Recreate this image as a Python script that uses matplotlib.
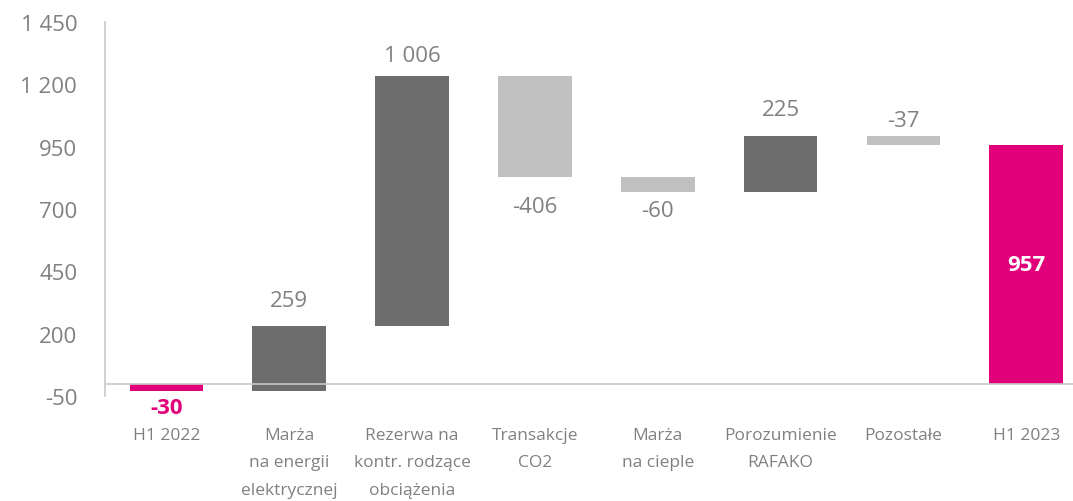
import matplotlib
matplotlib.use("Agg")
import matplotlib.pyplot as plt
import numpy as np

plt.rcParams['font.family'] = ['Open Sans', 'DejaVu Sans']

categories = ["H1 2022", "Marża\nna energii\nelektrycznej", "Rezerwa na\nkontr. rodzące\nobciążenia",
              "Transakcje\nCO2", "Marża\nna cieple", "Porozumienie\nRAFAKO", "Pozostałe", "H1 2023"]
values = [-30, 259, 1006, -406, -60, 225, -37, 957]
labels = ["-30", "259", "1 006", "-406", "-60", "225", "-37", "957"]
kinds = ["total", "delta", "delta", "delta", "delta", "delta", "delta", "total"]
yticks = [-50, 200, 450, 700, 950, 1200, 1450]
ytick_labels = ["-50", "200", "450", "700", "950", "1 200", "1 450"]

PINK = "#E2007A"
DARK = "#6D6D6D"
LIGHT = "#C0C0C0"
TXT = "#808080"

fig = plt.figure(figsize=(10.73, 5.02), dpi=100)
ax = fig.add_axes([105/1073, 105/502, 1 - 105/1073, 374/502])

x = np.arange(len(values))
bottoms, heights, colors = [], [], []
running = 0
for v, k in zip(values, kinds):
    if k == "total":
        bottoms.append(0)
        heights.append(v)
        colors.append(PINK)
        running = v
    else:
        bottoms.append(running)
        heights.append(v)
        colors.append(DARK if v > 0 else LIGHT)
        running += v

ax.bar(x, heights, bottom=bottoms, width=0.6, color=colors, zorder=2)
ax.axhline(0, color="#C8C8C8", lw=1.2, zorder=3)

# label placement (style): side and offset in pixels
label_side = ["below", "above", "above", "below", "below", "above", "above", "inside"]
label_off = [16, 26, 20, 30, 19, 26, 15, 0]
for i, (b, h, lab, side, off) in enumerate(zip(bottoms, heights, labels, label_side, label_off)):
    top = max(b, b + h)
    bot = min(b, b + h)
    if side == "above":
        ax.annotate(lab, (x[i], top), xytext=(0, off * 0.72), textcoords="offset points",
                    ha="center", va="center", fontsize=16, color=TXT)
    elif side == "below":
        color = PINK if kinds[i] == "total" else TXT
        weight = "bold" if kinds[i] == "total" else "normal"
        ax.annotate(lab, (x[i], bot), xytext=(0, -off * 0.72), textcoords="offset points",
                    ha="center", va="center", fontsize=16, color=color, fontweight=weight)
    else:
        ax.text(x[i], b + h / 2, lab, ha="center", va="center", fontsize=16,
                color="white", fontweight="bold")

ax.set_ylim(-50, 1450)
ax.set_xlim(-0.5, 7.38)
ax.set_yticks(yticks)
ax.set_yticklabels(ytick_labels, fontsize=16, color=TXT)
ax.set_xticks(x)
ax.set_xticklabels(categories, fontsize=12.5, color=TXT, linespacing=1.98)
ax.tick_params(axis="y", length=0, pad=20)
ax.tick_params(axis="x", length=0, pad=22)
for s in ["top", "right", "bottom"]:
    ax.spines[s].set_visible(False)
ax.spines["left"].set_color("#C8C8C8")
ax.spines["left"].set_linewidth(1.2)

fig.savefig("out.png", dpi=100)
